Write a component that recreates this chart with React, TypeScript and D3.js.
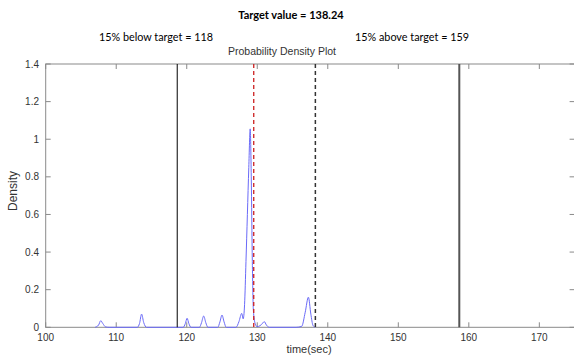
import React from "react";
import * as d3 from "d3";

const curveTime = [
  107.0, 107.5, 107.8, 108.1, 108.5, 109.0,
  113.0, 113.3, 113.6, 113.9, 114.3,
  119.5, 119.8, 120.05, 120.3, 120.6,
  121.8, 122.1, 122.4, 122.7, 123.0,
  124.4, 124.7, 125.0, 125.3, 125.6,
  127.0, 127.4, 127.8, 128.0, 128.2, 128.4, 128.6, 128.8, 129.0, 129.15, 129.3, 129.45, 129.7, 129.95,
  130.2, 130.6, 131.0, 131.3, 131.7,
  135.5, 136.3, 136.8, 137.25, 137.6, 137.9, 138.2,
];
const curveDensity = [
  0, 0.012, 0.035, 0.02, 0.002, 0,
  0, 0.02, 0.07, 0.025, 0,
  0, 0.02, 0.048, 0.02, 0,
  0, 0.025, 0.06, 0.025, 0,
  0, 0.028, 0.065, 0.028, 0,
  0, 0.03, 0.074, 0.045, 0.12, 0.35, 0.6, 0.85, 1.055, 0.8, 0.35, 0.09, 0.02, 0.004,
  0.005, 0.015, 0.03, 0.012, 0,
  0, 0.005, 0.08, 0.16, 0.07, 0.01, 0,
];

const xTicks = [100, 110, 120, 130, 140, 150, 160, 170];
const yTicks = [0, 0.2, 0.4, 0.6, 0.8, 1, 1.2, 1.4];

const targetValue = 138.24;
const belowLine = 118.65;
const medianLine = 129.5;
const aboveLine = 158.65;

const titleText = "Target value = 138.24";
const belowText = "15% below target = 118";
const aboveText = "15% above target = 159";
const plotTitle = "Probability Density Plot";
const xLabel = "time(sec)";
const yLabel = "Density";

export default function App() {
  const W = 574, H = 360;
  const left = 45.7, right = 574.6, top = 64, bottom = 327.3;
  const x = d3.scaleLinear().domain([100, 175]).range([left, right]);
  const y = d3.scaleLinear().domain([0, 1.4]).range([bottom, top]);
  const pts = curveTime.map((t, i) => [t, curveDensity[i]] as [number, number]);
  const line = d3.line<[number, number]>().x(d => x(d[0])).y(d => y(d[1])).curve(d3.curveMonotoneX);
  const axisColor = "#8a8a8a";
  const textColor = "#333";
  const arial = "'Liberation Sans', Arial, sans-serif";
  const cal = "Lato, 'Open Sans', sans-serif";
  return (
    <svg width={W} height={H} style={{ position: "absolute", left: 0, top: 0, background: "#fff" }}>
      <rect x={0} y={0} width={W} height={H} fill="#fff" />
      <text x={291} y={19} textAnchor="middle" fontFamily={cal} fontWeight="bold" fontSize={11} fill="#000">{titleText}</text>
      <text x={156} y={41} textAnchor="middle" fontFamily={cal} fontSize={10.8} fill="#000">{belowText}</text>
      <text x={412} y={41} textAnchor="middle" fontFamily={cal} fontSize={10.8} fill="#000">{aboveText}</text>
      <text x={282} y={55} textAnchor="middle" fontFamily={arial} fontSize={10.5} fill={textColor}>{plotTitle}</text>

      {/* frame */}
      <rect x={left} y={top} width={right - left} height={bottom - top} fill="none" stroke={axisColor} strokeWidth={1} />
      {xTicks.map(t => (
        <g key={"x" + t}>
          <line x1={x(t)} x2={x(t)} y1={bottom} y2={bottom - 5} stroke={axisColor} />
          <line x1={x(t)} x2={x(t)} y1={top} y2={top + 5} stroke={axisColor} />
          <text x={x(t)} y={341} textAnchor="middle" fontFamily={arial} fontSize={10} fill={textColor}>{t}</text>
        </g>
      ))}
      {yTicks.map(t => (
        <g key={"y" + t}>
          <line x1={left} x2={left + 5} y1={y(t)} y2={y(t)} stroke={axisColor} />
          <line x1={right} x2={right - 5} y1={y(t)} y2={y(t)} stroke={axisColor} />
          <text x={39} y={y(t) + 3.5} textAnchor="end" fontFamily={arial} fontSize={10} fill={textColor}>{t}</text>
        </g>
      ))}
      <text x={309} y={353} textAnchor="middle" fontFamily={arial} fontSize={11} fill={textColor}>{xLabel}</text>
      <text transform={`translate(17,191) rotate(-90)`} textAnchor="middle" fontFamily={arial} fontSize={12} fill={textColor}>{yLabel}</text>

      {/* density curve */}
      <path d={line(pts) || ""} fill="none" stroke="#6a6af8" strokeWidth={1} />

      {/* reference lines */}
      <line x1={x(belowLine)} x2={x(belowLine)} y1={top} y2={bottom} stroke="#000" strokeWidth={1} />
      <line x1={x(medianLine)} x2={x(medianLine)} y1={top} y2={bottom} stroke="#cc2020" strokeWidth={1.3} strokeDasharray="4,3" />
      <line x1={x(targetValue)} x2={x(targetValue)} y1={top} y2={bottom} stroke="#333" strokeWidth={1.5} strokeDasharray="4,3" />
      <line x1={x(aboveLine)} x2={x(aboveLine)} y1={top} y2={bottom} stroke="#555" strokeWidth={2} />
    </svg>
  );
}
